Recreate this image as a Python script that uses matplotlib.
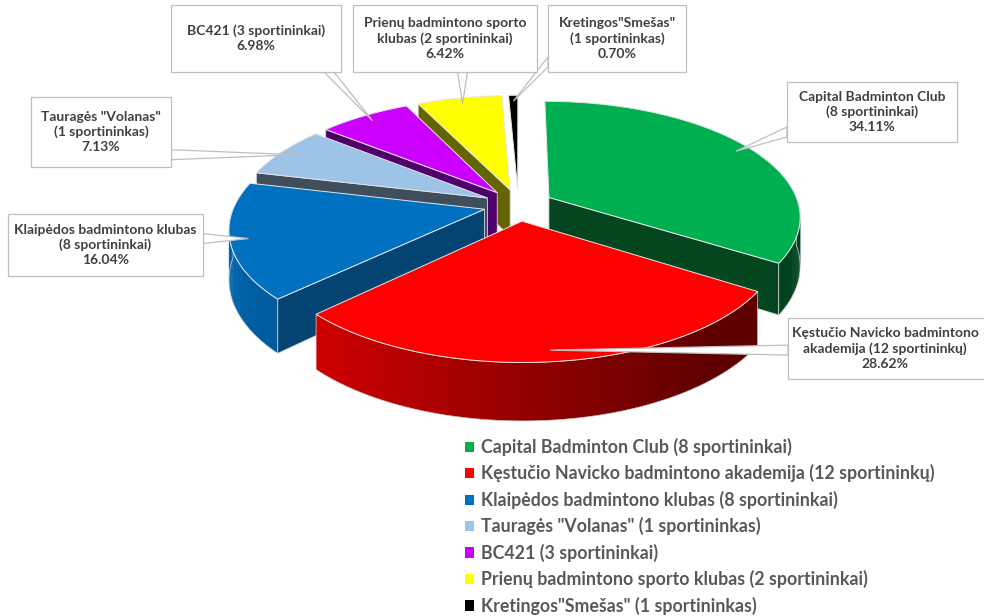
import numpy as np
import matplotlib.pyplot as plt
from matplotlib.patches import Polygon, Patch
from matplotlib.colors import to_rgb

plt.rcParams['font.family'] = ['Lato', 'DejaVu Sans']

# data
clubs = ['Capital Badminton Club', 'Kęstučio Navicko badmintono akademija',
         'Klaipėdos badmintono klubas', 'Tauragės "Volanas"', 'BC421',
         'Prienų badmintono sporto klubas', 'Kretingos"Smešas"']
athletes = ['(8 sportininkai)', '(12 sportininkų)', '(8 sportininkai)',
            '(1 sportininkas)', '(3 sportininkai)', '(2 sportininkai)',
            '(1 sportininkas)']
shares = [34.11, 28.62, 16.04, 7.13, 6.98, 6.42, 0.70]
colors = ['#00B050', '#FF0000', '#0070C0', '#9DC3E6', '#CC00FF', '#FFFF00', '#000000']
side_colors = ['#03461f', '#6a0000', '#034473', '#3f4e5c', '#50006a', '#646400', '#000000']
# how the callout text is broken into lines
callout_lines = [
    ['Capital Badminton Club', '(8 sportininkai)'],
    ['Kęstučio Navicko badmintono', 'akademija (12 sportininkų)'],
    ['Klaipėdos badmintono klubas', '(8 sportininkai)'],
    ['Tauragės "Volanas"', '(1 sportininkas)'],
    ['BC421 (3 sportininkai)'],
    ['Prienų badmintono sporto', 'klubas (2 sportininkai)'],
    ['Kretingos"Smešas"', '(1 sportininkas)'],
]

# layout (pixel coords of the figure)
W, H = 984, 616
cx, cy = 518.5, 205
rx, ry = 250, 113.5
persp = 0.157
depth = 48
explode = 0.14
boxes = [(787, 82, 957, 142), (788, 318, 995, 379), (8, 214, 203, 276),
         (31, 97, 171, 167), (171, 5, 341, 72), (353, 5, 537, 72),
         (548, 5, 686, 72)]

fig = plt.figure(figsize=(W / 100, H / 100), dpi=100)
ax = fig.add_axes([0, 0, 1, 1])
ax.set_xlim(0, W)
ax.set_ylim(H, 0)
ax.axis('off')

edges = np.concatenate([[0], np.cumsum(shares)]) / np.sum(shares) * 360
mids = (edges[:-1] + edges[1:]) / 2


def pt(theta, mid, r=1.0, dz=0.0):
    # point on the (exploded) slice, simple perspective: nearer = bigger
    t, m = np.radians(theta), np.radians(mid)
    X = explode * np.sin(m) + r * np.sin(t)
    Z = -explode * np.cos(m) - r * np.cos(t)
    s = 1.0 / (1.0 - persp * Z)
    return (cx + rx * X * s, cy + (ry * Z + dz) * s)


def shade(color, f):
    return tuple(np.clip(np.array(to_rgb(color)) * f, 0, 1))


order = np.argsort(-np.cos(np.radians(mids)))
for i in order:
    t1, t2, m = edges[i], edges[i + 1], mids[i]
    apex = pt(0, m, r=0)
    apex_low = pt(0, m, r=0, dz=depth)
    col = colors[i]

    # cut faces
    for t, n in ((t1, t1 - 90), (t2, t2 + 90)):
        if np.cos(np.radians(n)) < -0.05:
            p, q = pt(t, m), pt(t, m, dz=depth)
            ax.add_patch(Polygon([apex, p, q, apex_low], closed=True,
                                 facecolor=side_colors[i], edgecolor='#d9d9d9',
                                 lw=0.6, zorder=2))

    # outer wall (front half only), shaded strips
    a, b = max(t1, 90), min(t2, 270)
    if b > a:
        ts = np.linspace(a, b, max(int((b - a) * 2), 2))
        step = ts[1] - ts[0]
        for ta in ts[:-1]:
            tb = min(ta + step * 1.8, b)
            tm = np.radians(ta + step / 2)
            f = np.clip(0.58 + 0.32 * (-np.sin(tm)), 0.37, 0.9)
            quad = [pt(ta, m), pt(tb, m), pt(tb, m, dz=depth), pt(ta, m, dz=depth)]
            ax.add_patch(Polygon(quad, closed=True, facecolor=shade(col, f),
                                 edgecolor='none', lw=0, zorder=2))
        outline = [pt(t, m) for t in ts] + [pt(t, m, dz=depth) for t in ts[::-1]]
        ax.add_patch(Polygon(outline, closed=True, fill=False,
                             edgecolor='#d9d9d9', lw=0.5, zorder=2))

    # top face
    arc = [pt(t, m) for t in np.linspace(t1, t2, 120)]
    ax.add_patch(Polygon([apex] + arc, closed=True, facecolor=col,
                         edgecolor='#e6e6e6', lw=0.7, zorder=2))

# callouts
for i, (x0, y0, x1, y1) in enumerate(boxes):
    tip = pt(mids[i], mids[i], r=0.93)
    dx = max(x0 - tip[0], tip[0] - x1, 0)
    dy = max(y0 - tip[1], tip[1] - y1, 0)
    hw = 5
    if dx > dy:
        ex = x0 if tip[0] < x0 else x1
        yc = np.clip(tip[1], y0 + 10, y1 - 10)
        base = [(ex, yc - hw), (ex, yc + hw)]
    else:
        ey = y0 if tip[1] < y0 else y1
        xc = np.clip(tip[0], x0 + 12, x1 - 12)
        base = [(xc - hw, ey), (xc + hw, ey)]
    ax.add_patch(Polygon([base[0], tip, base[1]], closed=True, facecolor='white',
                         edgecolor='#bfbfbf', lw=0.9, zorder=3))
    ax.add_patch(Polygon([(x0, y0), (x1, y0), (x1, y1), (x0, y1)], closed=True,
                         facecolor='white', edgecolor='#bfbfbf', lw=0.9, zorder=4))
    txt = '\n'.join(callout_lines[i] + [f'{shares[i]:.2f}%'])
    tx = min((x0 + x1) / 2, W - 99)
    ax.text(tx, (y0 + y1) / 2, txt, ha='center', va='center',
            fontsize=10, fontweight='bold', color='#404040', linespacing=1.3,
            zorder=5)

handles = [Patch(facecolor=c, edgecolor='none') for c in colors]
labels = [f'{c} {a}' for c, a in zip(clubs, athletes)]
leg = ax.legend(handles, labels, loc='upper left',
                bbox_to_anchor=(456 / W, 1 - 429 / H),
                bbox_transform=fig.transFigure, frameon=False, borderpad=0,
                handlelength=0.5, handleheight=0.5, handletextpad=0.4,
                labelspacing=0.47, labelcolor='#595959',
                prop={'weight': 'bold', 'size': 12.8})

fig.savefig('out.png', dpi=100)
